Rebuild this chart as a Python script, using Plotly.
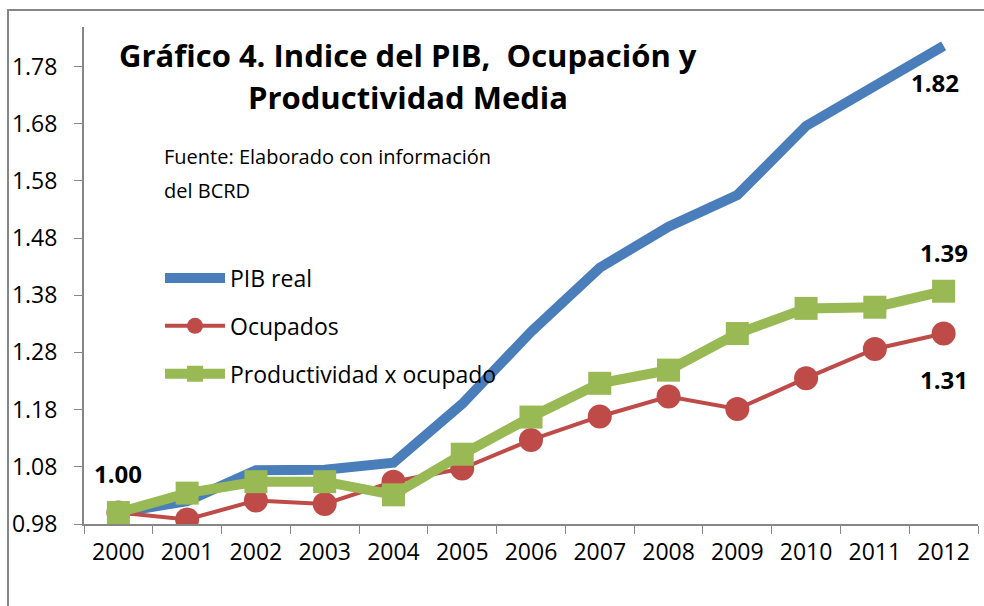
import plotly.graph_objects as go

years = ["2000", "2001", "2002", "2003", "2004", "2005", "2006",
         "2007", "2008", "2009", "2010", "2011", "2012"]
pib_real = [1.00, 1.02, 1.074, 1.075, 1.087, 1.19, 1.316,
            1.428, 1.50, 1.555, 1.676, 1.746, 1.816]
ocupados = [1.00, 0.988, 1.021, 1.015, 1.054, 1.077, 1.127,
            1.168, 1.203, 1.181, 1.235, 1.286, 1.313]
productividad = [1.00, 1.034, 1.054, 1.054, 1.031, 1.102, 1.167,
                 1.226, 1.249, 1.313, 1.357, 1.359, 1.387]
y_ticks = [0.98, 1.08, 1.18, 1.28, 1.38, 1.48, 1.58, 1.68, 1.78]
title_lines = ["Gráfico 4. Indice del PIB,  Ocupación y", "Productividad Media"]
source_lines = ["Fuente: Elaborado con información", "del BCRD"]

BLUE = "#4A7EBB"
RED = "#BE4B48"
GREEN = "#98B954"
FONT = "Open Sans"

fig = go.Figure()
fig.add_trace(go.Scatter(x=years, y=pib_real, name="PIB real", mode="lines",
                         line=dict(color=BLUE, width=10), legendgroup="a"))
fig.add_trace(go.Scatter(x=years, y=ocupados, name="Ocupados", mode="lines+markers",
                         line=dict(color=RED, width=4),
                         marker=dict(symbol="circle", size=24, color=RED),
                         legendgroup="b"))
fig.add_trace(go.Scatter(x=years, y=productividad, name="Productividad x ocupado",
                         mode="lines+markers",
                         line=dict(color=GREEN, width=10),
                         marker=dict(symbol="square", size=23, color=GREEN),
                         legendgroup="c"))

lab_font = dict(family=FONT, size=24, color="black", weight="bold")
last = len(years) - 1
fig.add_annotation(x=0, y=ocupados[0], text=f"{ocupados[0]:.2f}", showarrow=False,
                   yshift=39, font=lab_font)
fig.add_annotation(x=last, y=pib_real[-1], text=f"{pib_real[-1]:.2f}", showarrow=False,
                   xshift=-9, yshift=-37, font=lab_font)
fig.add_annotation(x=last, y=productividad[-1], text=f"{productividad[-1]:.2f}", showarrow=False,
                   yshift=39, font=lab_font)
fig.add_annotation(x=last, y=ocupados[-1], text=f"{ocupados[-1]:.2f}", showarrow=False,
                   yshift=-46, font=lab_font)

def py2paper(py):
    return (524 - py) / 497

def px2paper(px):
    return (px - 84) / 894

# Title
for txt, py in zip(title_lines, [55, 97]):
    fig.add_annotation(xref="paper", yref="paper", x=px2paper(408), y=py2paper(py),
                       xanchor="center", yanchor="middle", showarrow=False, text=txt,
                       font=dict(family=FONT, size=31, color="black", weight="bold"))
# Source
for txt, py in zip(source_lines, [156, 190]):
    fig.add_annotation(xref="paper", yref="paper", x=px2paper(162), y=py2paper(py),
                       xanchor="left", yanchor="middle", showarrow=False, text=txt,
                       font=dict(family=FONT, size=20, color="black"))

# outer frame
fig.add_shape(type="rect", xref="paper", yref="paper",
              x0=px2paper(8), x1=1.2, y0=-0.3, y1=py2paper(10),
              line=dict(color="#868686", width=2), layer="below")

fig.update_layout(
    width=984, height=606,
    margin=dict(l=84, r=6, t=27, b=82),
    paper_bgcolor="white", plot_bgcolor="white",
    font=dict(family=FONT, size=23, color="black"),
    showlegend=True,
    legend=dict(x=px2paper(160), y=py2paper(326), xanchor="left", yanchor="middle",
                bgcolor="rgba(0,0,0,0)", tracegroupgap=15,
                font=dict(family=FONT, size=23), itemwidth=60),
    xaxis=dict(type="category", showline=True, linecolor="#868686", linewidth=2,
               ticks="outside", tickson="boundaries", ticklen=8, tickcolor="#868686",
               showgrid=False, tickfont=dict(size=23), range=[-0.5, 12.5],
               ticklabelstandoff=6),
    yaxis=dict(range=[0.98, 1.849], tickvals=y_ticks,
               ticktext=[f"{v:.2f}" for v in y_ticks],
               showline=True, linecolor="#868686", linewidth=2,
               ticks="outside", ticklen=8, tickcolor="#868686",
               showgrid=False, zeroline=False, tickfont=dict(size=23),
               ticklabelstandoff=12),
)

fig.write_html("out.html", config={"displayModeBar": False},
               post_script="document.body.style.margin='0';document.body.style.padding='0';")
